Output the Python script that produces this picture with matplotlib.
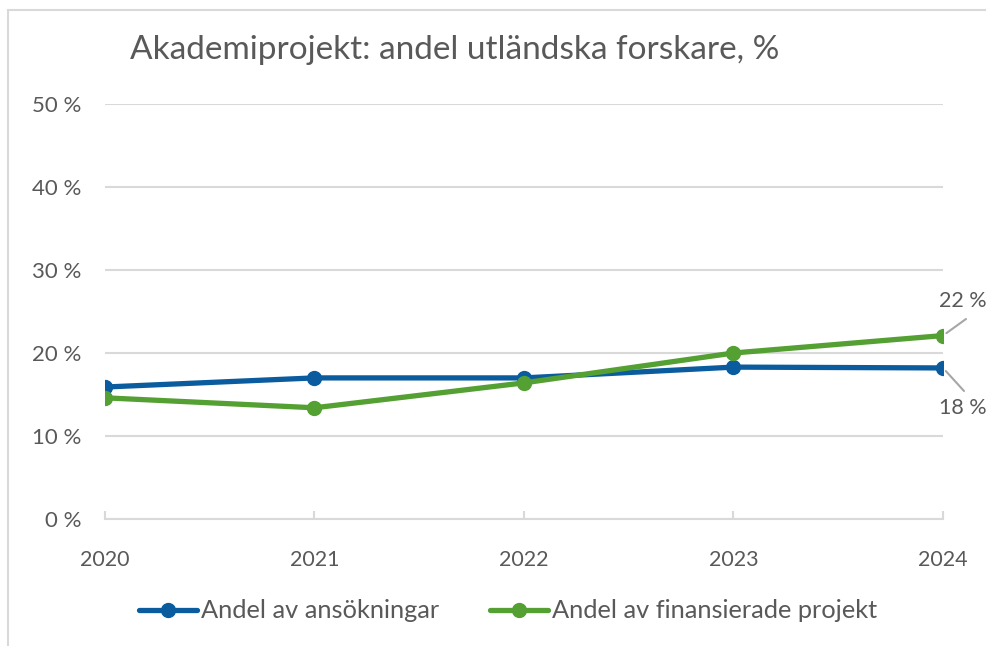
import matplotlib.pyplot as plt
from matplotlib.patches import Rectangle

# data
years = ['2020', '2021', '2022', '2023', '2024']
ansokningar = [15.9, 17.0, 17.0, 18.3, 18.2]
finansierade = [14.6, 13.4, 16.4, 20.0, 22.1]
yticks = [0, 10, 20, 30, 40, 50]

blue = '#0b5c9e'
green = '#54a032'
grey = '#595959'

plt.rcParams['font.family'] = ['Lato', 'DejaVu Sans']

W, H = 987, 646
fig = plt.figure(figsize=(W / 100, H / 100), dpi=100)

# chart frame
fig.patches.append(Rectangle((8 / W, -0.05), 1.1, 1 - 10 / H + 0.05, transform=fig.transFigure,
                             fill=False, edgecolor='#d9d9d9', linewidth=1.5))

ax = fig.add_axes([105 / W, 1 - 519 / H, (943 - 105) / W, (519 - 104) / H])
x = range(len(years))

ax.plot(x, ansokningar, color=blue, lw=3.8, marker='o', ms=10, solid_capstyle='round',
        label='Andel av ansökningar', zorder=3)
ax.plot(x, finansierade, color=green, lw=3.8, marker='o', ms=10, solid_capstyle='round',
        label='Andel av finansierade projekt', zorder=3)

ax.set_xlim(0, 4)
ax.set_ylim(0, 50)
ax.set_yticks(yticks)
ax.set_yticklabels([f'{v} %' for v in yticks])
ax.set_xticks(list(x))
ax.set_xticklabels(years)
ax.grid(axis='y', color='#d9d9d9', lw=1.5, zorder=0)
ax.set_axisbelow(True)
for s in ['top', 'right', 'left']:
    ax.spines[s].set_visible(False)
ax.spines['bottom'].set_color('#d9d9d9')
ax.spines['bottom'].set_linewidth(1.5)
ax.tick_params(axis='y', length=0, pad=17, labelsize=16, labelcolor=grey)
ax.tick_params(axis='x', direction='in', length=6, width=1.5, color='#d9d9d9',
               pad=22, labelsize=15.5, labelcolor=grey)

# data labels with leader lines
for val, line_end, text_pos in [(finansierade[-1], (966, H - 319), (939, H - 301)),
                                (ansokningar[-1], (964, H - 391), (939, H - 408))]:
    ax.annotate('', xy=(4, val), xytext=line_end, textcoords='figure pixels',
                arrowprops=dict(arrowstyle='-', color='#a6a6a6', lw=1.5, shrinkA=0, shrinkB=3))
    fig.text(text_pos[0] / W, text_pos[1] / H, f'{round(val)} %', ha='left', va='center',
             fontsize=15.5, color=grey)

fig.text(455 / W, 1 - 50 / H, 'Akademiprojekt: andel utländska forskare, %',
         ha='center', va='center', fontsize=24, color=grey)

fig.legend(loc='center', bbox_to_anchor=(508 / W, 1 - 611 / H), ncol=2, frameon=False,
           fontsize=18.3, labelcolor=grey, handlelength=2.3, handletextpad=0.15,
           columnspacing=2.0)

fig.savefig('out.png', dpi=100)
